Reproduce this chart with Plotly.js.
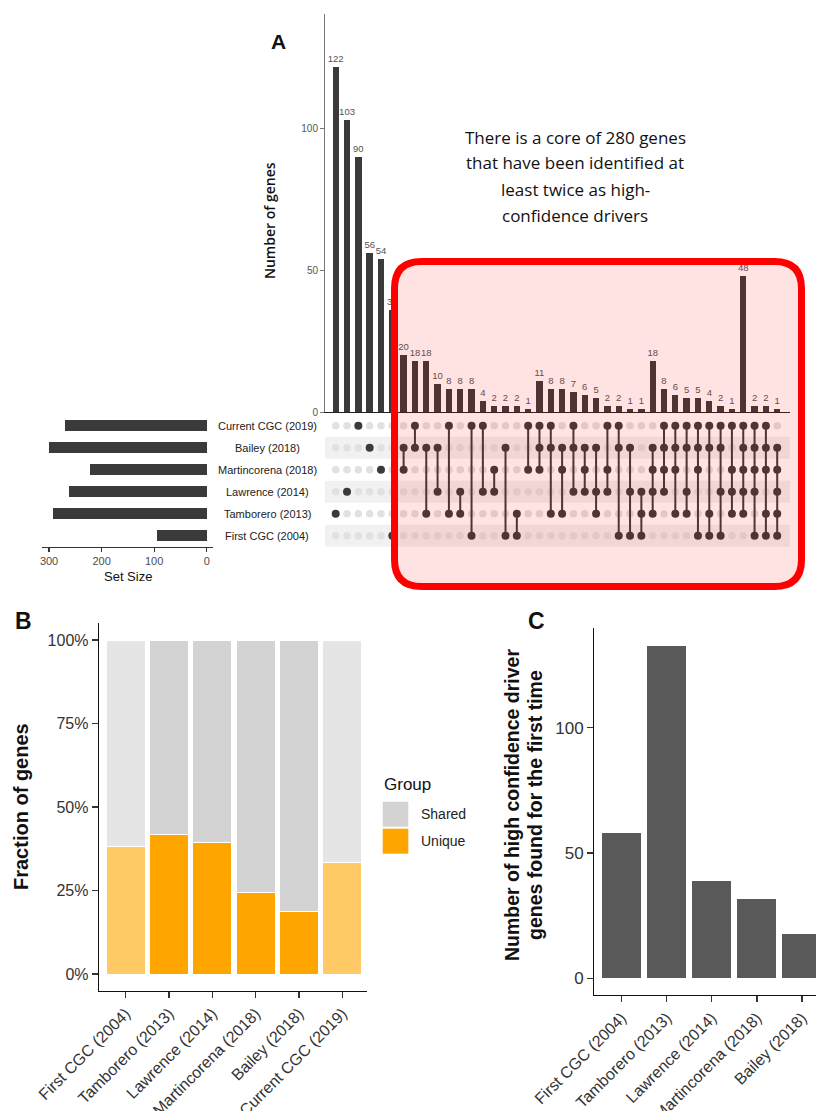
<!DOCTYPE html>
<html><head><meta charset="utf-8">
<script src="https://cdn.plot.ly/plotly-3.0.1.min.js"></script>
<style>html,body{margin:0;padding:0;background:#fff}#chart{width:816px;height:1111px}</style>
</head><body><div id="chart"></div>
<script>
// ---------------- Panel A: UpSet data ----------------
const setNames = ['Current CGC (2019)','Bailey (2018)','Martincorena (2018)','Lawrence (2014)','Tamborero (2013)','First CGC (2004)'];
const setCodes = ['C','B','M','L','T','F'];
const setSizes = [270, 300, 222, 262, 292, 95];
const intersectionSets = ['T','L','C','B','M','F',
  'BM','CB','BT','BL','CT','LT','CF','CL','ML','BF','TF','CM',
  'CBM','CBT','BMT','CBL','BML','BLT','CML','CBF','BLF','LTF',
  'BMLT','CBML','CBMT','CBLT','CBMF','CBTF','CBLF','CMLT',
  'CBMLT','CBMLF','CBMTF','BMLTF'];
const intersectionCounts = [122,103,90,56,54,36,
  20,18,18,10,8,8,8,4,2,2,2,1,
  11,8,8,7,6,5,2,2,1,1,
  18,8,6,5,5,4,2,1,
  48,2,2,1];
const calloutLines = ['There is a core of 280 genes','that have been identified at','least twice as high-','confidence drivers'];

// ---------------- Panel B data ----------------
const cohorts = ['First CGC (2004)','Tamborero (2013)','Lawrence (2014)','Martincorena (2018)','Bailey (2018)','Current CGC (2019)'];
const uniqueFraction = [0.381, 0.418, 0.395, 0.245, 0.186, 0.334];
const sharedFraction = [0.619, 0.582, 0.605, 0.755, 0.814, 0.666];
const fadedCohort = [true, false, false, false, false, true];
const groupNames = ['Shared','Unique'];
const groupColors = ['#d3d3d3','#ffa500'];
const groupColorsFaded = ['#e5e5e5','#ffc966'];

// ---------------- Panel C data ----------------
const firstTimeCohorts = ['First CGC (2004)','Tamborero (2013)','Lawrence (2014)','Martincorena (2018)','Bailey (2018)'];
const firstTimeCounts = [58, 133, 39, 32, 18];

// ---------------- helpers ----------------
const W = 816, H = 1111;
const px = v => v / W;
const py = v => 1 - v / H;
const FONT = 'Liberation Sans, Arial, sans-serif';
const DARK = '#3b3b3b';

const colIdx = intersectionCounts.map((_, i) => i);

// matrix dots
const offX = [], offY = [], onX = [], onY = [], lnX = [], lnY = [];
intersectionSets.forEach((s, c) => {
  const rows = [];
  setCodes.forEach((code, r) => {
    if (s.includes(code)) { onX.push(c); onY.push(r); rows.push(r); }
    else { offX.push(c); offY.push(r); }
  });
  if (rows.length > 1) {
    lnX.push(c, c, null);
    lnY.push(Math.min(...rows), Math.max(...rows), null);
  }
});

const traces = [
  { type: 'bar', x: colIdx, y: intersectionCounts, xaxis: 'x', yaxis: 'y', width: 0.56,
    marker: { color: '#3a3a3a' }, text: intersectionCounts.map(String), textposition: 'outside',
    cliponaxis: false, constraintext: 'none', textfont: { family: FONT, size: 9.5, color: '#555' },
    hoverinfo: 'skip', showlegend: false },
  { type: 'scatter', mode: 'markers', x: offX, y: offY, xaxis: 'x2', yaxis: 'y2',
    marker: { size: 7.5, color: '#e1e1e1' }, hoverinfo: 'skip', showlegend: false },
  { type: 'scatter', mode: 'lines', x: lnX, y: lnY, xaxis: 'x2', yaxis: 'y2', connectgaps: false,
    line: { color: DARK, width: 2 }, hoverinfo: 'skip', showlegend: false },
  { type: 'scatter', mode: 'markers', x: onX, y: onY, xaxis: 'x2', yaxis: 'y2',
    marker: { size: 8, color: DARK }, hoverinfo: 'skip', showlegend: false },
  { type: 'bar', orientation: 'h', y: setNames.map((_, i) => i), x: setSizes, xaxis: 'x3', yaxis: 'y3',
    width: 0.5, marker: { color: '#3a3a3a' }, hoverinfo: 'skip', showlegend: false },
  { type: 'bar', x: cohorts, y: uniqueFraction, xaxis: 'x4', yaxis: 'y4', width: 0.9, name: groupNames[1],
    marker: { color: fadedCohort.map(f => f ? groupColorsFaded[1] : groupColors[1]), line: { color: '#fff', width: 1 } },
    hoverinfo: 'skip', showlegend: false },
  { type: 'bar', x: cohorts, y: sharedFraction, xaxis: 'x4', yaxis: 'y4', width: 0.9, name: groupNames[0],
    marker: { color: fadedCohort.map(f => f ? groupColorsFaded[0] : groupColors[0]), line: { color: '#fff', width: 1 } },
    hoverinfo: 'skip', showlegend: false },
  { type: 'bar', x: firstTimeCohorts, y: firstTimeCounts, xaxis: 'x5', yaxis: 'y5', width: 0.89,
    marker: { color: '#595959', line: { color: '#fff', width: 1 } }, hoverinfo: 'skip', showlegend: false }
];

// ---------------- shapes ----------------
const shapes = [];
setNames.forEach((_, r) => {
  if (r % 2 === 1) shapes.push({ type: 'rect', xref: 'paper', yref: 'y2', x0: px(325), x1: px(790),
    y0: r - 0.5, y1: r + 0.5, fillcolor: '#f1f1f1', line: { width: 0 }, layer: 'below' });
});
// rounded highlight box
(function () {
  const L = 394.5, T = 261.5, R = 801.5, B = 586.5, rr = 27;
  const P = (x, y) => px(x) + ',' + py(y);
  const path = 'M' + P(L + rr, T) + ' L' + P(R - rr, T) + ' Q' + P(R, T) + ' ' + P(R, T + rr) +
    ' L' + P(R, B - rr) + ' Q' + P(R, B) + ' ' + P(R - rr, B) +
    ' L' + P(L + rr, B) + ' Q' + P(L, B) + ' ' + P(L, B - rr) +
    ' L' + P(L, T + rr) + ' Q' + P(L, T) + ' ' + P(L + rr, T) + ' Z';
  shapes.push({ type: 'path', xref: 'paper', yref: 'paper', path: path,
    fillcolor: 'rgba(255,0,0,0.11)', line: { color: '#ff0000', width: 7 }, layer: 'above' });
})();
// legend swatches (panel B)
const swatchTop = [801.7, 828.7];
groupNames.forEach((g, i) => {
  shapes.push({ type: 'rect', xref: 'paper', yref: 'paper', x0: px(382.7), x1: px(408.3),
    y0: py(swatchTop[i] + 25), y1: py(swatchTop[i]), fillcolor: groupColors[i], line: { width: 0 } });
});

// ---------------- annotations ----------------
const ann = [];
const txt = (text, x, y, size, opts = {}) => Object.assign({ text, x: px(x), y: py(y), xref: 'paper', yref: 'paper',
  showarrow: false, xanchor: 'center', yanchor: 'middle', font: { family: FONT, size, color: '#111' } }, opts);

ann.push(txt('<b>A</b>', 278, 42, 21));
calloutLines.forEach((l, i) => ann.push(txt(l, 575, 137 + 26 * i, 17, { font: { family: 'Open Sans, sans-serif', size: 17, color: '#111' } })));
ann.push(txt('Number of genes', 270, 221, 14, { textangle: -90, font: { family: 'Open Sans, sans-serif', size: 14, color: '#111', weight: 600 } }));
setNames.forEach((s, r) => ann.push({ text: s, x: px(267), xref: 'paper', y: r, yref: 'y2', showarrow: false,
  xanchor: 'center', yanchor: 'middle', font: { family: FONT, size: 11, color: '#222' } }));
ann.push(txt('Set Size', 128, 576, 13));
ann.push(txt('<b>B</b>', 23, 621, 23));
ann.push(txt('<b>Fraction of genes</b>', 21, 807, 20, { textangle: -90 }));
ann.push(txt('Group', 381.7, 784, 17, { xanchor: 'left' }));
groupNames.forEach((g, i) => ann.push(txt(g, 419.3, swatchTop[i] + 12.5, 14, { xanchor: 'left', font: { family: FONT, size: 14, color: '#222' } })));
ann.push(txt('<b>C</b>', 536, 621, 23));
ann.push(txt('<b>Number of high confidence driver</b>', 512, 805, 19.5, { textangle: -90 }));
ann.push(txt('<b>genes found for the first time</b>', 535, 805, 19.5, { textangle: -90 }));

const classicAxis = { showline: true, linecolor: '#111', linewidth: 1.3, ticks: 'outside', ticklen: 6,
  tickcolor: '#333', tickwidth: 1.2, showgrid: false, zeroline: false, fixedrange: true };

const layout = {
  width: W, height: H, margin: { l: 0, r: 0, t: 0, b: 0 }, paper_bgcolor: '#fff', plot_bgcolor: 'rgba(0,0,0,0)',
  barmode: 'stack', showlegend: false, font: { family: FONT, color: '#333' },
  xaxis: { domain: [px(325), px(790)], range: [-0.945, 40.13], anchor: 'y', showline: true, linecolor: '#222',
    linewidth: 1.3, showticklabels: false, ticks: '', showgrid: false, zeroline: false },
  yaxis: { domain: [py(412), py(14)], range: [0, 140.6], anchor: 'x', showline: true, linecolor: '#777', linewidth: 1,
    ticks: 'outside', ticklen: 4, tickcolor: '#777', tickvals: [0, 50, 100], tickfont: { size: 10, color: '#555' },
    showgrid: false, zeroline: false },
  xaxis2: { domain: [px(325), px(790)], matches: 'x', anchor: 'y2', visible: false },
  yaxis2: { domain: [py(546.7), py(414.7)], range: [5.5, -0.5], anchor: 'x2', visible: false },
  xaxis3: Object.assign({}, classicAxis, { domain: [px(41.7), px(213)], range: [314, -12], anchor: 'y3',
    tickvals: [0, 100, 200, 300], ticklen: 4, linecolor: '#333', linewidth: 1.2, tickfont: { size: 11, color: '#4d4d4d' } }),
  yaxis3: { domain: [py(546.7), py(414.7)], range: [5.5, -0.5], anchor: 'x3', visible: false },
  xaxis4: Object.assign({}, classicAxis, { domain: [px(99), px(367)], range: [-0.617, 5.57], anchor: 'y4', type: 'category',
    tickangle: -45, tickfont: { size: 16, color: '#333' } }),
  yaxis4: Object.assign({}, classicAxis, { domain: [py(990.7), py(623)], range: [-0.05, 1.051], anchor: 'x4',
    tickvals: [0, 0.25, 0.5, 0.75, 1], ticktext: ['0%', '25%', '50%', '75%', '100%'], tickfont: { size: 16, color: '#333' } }),
  xaxis5: Object.assign({}, classicAxis, { domain: [px(594.3), 1], range: [-0.607, 4.31], anchor: 'y5', type: 'category',
    tickangle: -45, tickfont: { size: 16, color: '#333' } }),
  yaxis5: Object.assign({}, classicAxis, { domain: [py(995), py(628)], range: [-6.66, 139.8], anchor: 'x5',
    tickvals: [0, 50, 100], tickfont: { size: 17, color: '#333' } }),
  shapes: shapes, annotations: ann
};

Plotly.newPlot('chart', traces, layout, { staticPlot: true, displayModeBar: false });
</script></body></html>
